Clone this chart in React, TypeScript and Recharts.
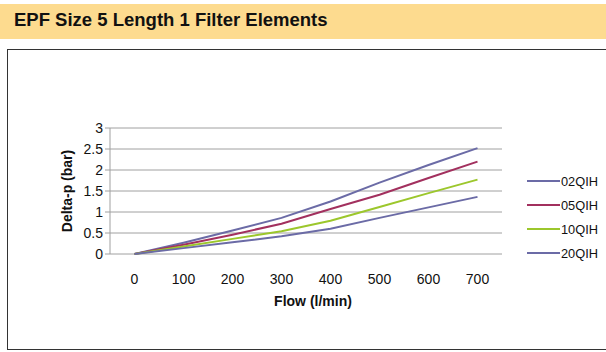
import React from 'react';
import { LineChart, Line, XAxis, YAxis, CartesianGrid, Label } from 'recharts';

const flows = [0, 100, 200, 300, 400, 500, 600, 700];
const q02 = [0, 0.27, 0.56, 0.86, 1.25, 1.7, 2.12, 2.52];
const q05 = [0, 0.22, 0.46, 0.72, 1.07, 1.41, 1.81, 2.2];
const q10 = [0, 0.18, 0.36, 0.54, 0.79, 1.12, 1.45, 1.77];
const q20 = [0, 0.14, 0.28, 0.42, 0.6, 0.86, 1.11, 1.36];
const yTicks = [0, 0.5, 1, 1.5, 2, 2.5, 3];

const seriesInfo = [
  { key: 'q02', name: '02QIH', color: '#6B6BA6' },
  { key: 'q05', name: '05QIH', color: '#A2305E' },
  { key: 'q10', name: '10QIH', color: '#9CC72C' },
  { key: 'q20', name: '20QIH', color: '#6B6BA6' },
];

const data = flows.map((f, i) => ({
  flow: f,
  q02: q02[i],
  q05: q05[i],
  q10: q10[i],
  q20: q20[i],
}));

const font = '"Liberation Sans", Arial, sans-serif';

// legend drawn as plain html so it doesn't eat into the plot area
const LegendBox = () => (
  <div style={{ position: 'absolute', left: 527, top: 169, fontFamily: font, fontSize: 12.8, color: '#111' }}>
    {seriesInfo.map((s) => (
      <div key={s.key} style={{ display: 'flex', alignItems: 'center', height: 24 }}>
        <div style={{ width: 33, height: 2, background: s.color }} />
        <span style={{ marginLeft: 1 }}>{s.name}</span>
      </div>
    ))}
  </div>
);

const App: React.FC = () => {
  return (
    <div style={{ position: 'absolute', left: 0, top: 0, width: 606, height: 352, background: '#fff', overflow: 'hidden' }}>
      <div
        style={{
          position: 'absolute',
          left: 0,
          top: 4,
          width: 606,
          height: 35,
          background: '#FDDB8F',
        }}
      />
      <div
        style={{
          position: 'absolute',
          left: 14,
          top: 9,
          fontFamily: font,
          fontWeight: 'bold',
          fontSize: 18.5,
          color: '#111',
          whiteSpace: 'nowrap',
        }}
      >
        EPF Size 5 Length 1 Filter Elements
      </div>
      <div
        style={{
          position: 'absolute',
          left: 7,
          top: 49,
          width: 620,
          height: 299,
          border: '1px solid #333',
        }}
      />
      <div style={{ position: 'absolute', left: 0, top: 0 }}>
        <LineChart
          width={606}
          height={352}
          data={data}
          margin={{ top: 128, right: 104, bottom: 38, left: 50 }}
        >
          <CartesianGrid vertical={false} stroke="#A0A0A0" strokeWidth={1} />
          <XAxis
            dataKey="flow"
            type="category"
            padding={{ left: 24.5, right: 24.5 }}
            axisLine={false}
            tickLine={false}
            tickMargin={14}
            height={60}
            interval={0}
            tick={{ fill: '#111', fontSize: 14, fontFamily: font }}
          >
            <Label
              value="Flow (l/min)"
              position="insideBottom"
              offset={8}
              dx={7}
              style={{ fill: '#111', fontSize: 14, fontWeight: 'bold', fontFamily: font }}
            />
          </XAxis>
          <YAxis
            domain={[0, 3]}
            ticks={yTicks}
            interval={0}
            width={60}
            stroke="#A0A0A0"
            tickSize={5}
            tickMargin={2}
            tick={{ fill: '#111', fontSize: 14, fontFamily: font }}
          >
            <Label
              value="Delta-p (bar)"
              angle={-90}
              position="insideLeft"
              offset={17}
              style={{ textAnchor: 'middle', fill: '#111', fontSize: 14, fontWeight: 'bold', fontFamily: font }}
            />
          </YAxis>
          {seriesInfo.map((s) => (
            <Line
              key={s.key}
              type="linear"
              dataKey={s.key}
              name={s.name}
              stroke={s.color}
              strokeWidth={2}
              dot={false}
              isAnimationActive={false}
            />
          ))}
        </LineChart>
      </div>
      <LegendBox />
    </div>
  );
};

export default App;
